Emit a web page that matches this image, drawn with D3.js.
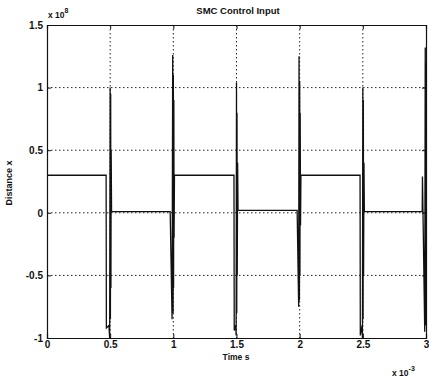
<!DOCTYPE html>
<html>
<head>
<meta charset="utf-8">
<script src="https://cdn.jsdelivr.net/npm/d3@7"></script>
<style>
  body { margin: 0; background: #fff; }
  text { font-family: Arial, "Liberation Sans", sans-serif; fill: #111; }
</style>
</head>
<body>
<figure id="chart" style="margin:0"></figure>
<script>
// time in units of 1e-3 s, control input in units of 1e8
const timeMs = [
  0, 0.468, 0.470, 0.490, 0.496, 0.500, 0.502, 0.504, 0.506, 0.508, 0.511,
  0.975, 0.990, 0.995, 0.998, 1.000, 1.002, 1.004, 1.006, 1.009,
  1.480, 1.482, 1.494, 1.497, 1.500, 1.502, 1.504, 1.506, 1.509, 1.512,
  1.980, 1.992, 1.995, 1.998, 2.000, 2.002, 2.004, 2.007, 2.010,
  2.478, 2.480, 2.494, 2.497, 2.500, 2.502, 2.504, 2.506, 2.509, 2.512,
  2.970, 2.972, 2.990, 2.994, 2.997, 3.000
];
const controlInput = [
  0.30, 0.30, -0.92, -0.90, -1.00, 1.00, -0.85, 0.95, -0.60, 0.50, 0.01,
  0.01, -0.85, 1.26, -0.80, 1.10, -0.60, 0.90, -0.20, 0.30,
  0.30, -0.94, -0.90, -0.98, 1.04, -0.80, 0.80, -0.50, 0.40, 0.02,
  0.02, -0.75, 1.25, -0.70, 1.05, -0.50, 0.80, -0.10, 0.30,
  0.30, -0.98, -0.90, -1.00, 1.00, -0.85, 0.90, -0.50, 0.40, 0.01,
  0.01, 0.29, -0.95, 1.32, -0.90, 1.20
];
const xTicks = [0, 0.5, 1, 1.5, 2, 2.5, 3];
const yTicks = [-1, -0.5, 0, 0.5, 1, 1.5];

const width = 429, height = 381;
const mLeft = 47, mRight = 426, mTop = 25, mBottom = 338;

const svg = d3.select('#chart').append('svg')
  .attr('width', width).attr('height', height);

const x = d3.scaleLinear().domain([0, 3]).range([mLeft, mRight]);
const y = d3.scaleLinear().domain([-1, 1.5]).range([mBottom, mTop]);

// dotted grid
svg.append('g').selectAll('line')
  .data(xTicks.slice(1, -1)).enter().append('line')
  .attr('x1', d => x(d)).attr('x2', d => x(d))
  .attr('y1', mTop).attr('y2', mBottom)
  .attr('stroke', '#222').attr('stroke-dasharray', '1.5,2.5');
svg.append('g').selectAll('line')
  .data(yTicks.slice(1, -1)).enter().append('line')
  .attr('y1', d => y(d)).attr('y2', d => y(d))
  .attr('x1', mLeft).attr('x2', mRight)
  .attr('stroke', '#222').attr('stroke-dasharray', '1.5,2.5');

// signal
const line = d3.line().x(d => x(d[0])).y(d => y(d[1]));
svg.append('path')
  .datum(timeMs.map((t, i) => [t, controlInput[i]]))
  .attr('d', line)
  .attr('fill', 'none').attr('stroke', '#111').attr('stroke-width', 1.3);

// axes (ticks inward, box)
const fmt = d => String(d);
svg.append('g').attr('transform', `translate(0,${mBottom})`)
  .call(d3.axisBottom(x).tickValues(xTicks).tickSize(-4).tickPadding(3).tickFormat(fmt));
svg.append('g').attr('transform', `translate(0,${mTop})`)
  .call(d3.axisTop(x).tickValues(xTicks).tickSize(-4).tickFormat(''));
svg.append('g').attr('transform', `translate(${mLeft},0)`)
  .call(d3.axisLeft(y).tickValues(yTicks).tickSize(-4).tickPadding(4).tickFormat(fmt));
svg.append('g').attr('transform', `translate(${mRight},0)`)
  .call(d3.axisRight(y).tickValues(yTicks).tickSize(-4).tickFormat(''));

svg.selectAll('.domain').attr('stroke', '#111').attr('stroke-width', 1.2);
svg.selectAll('.tick line').attr('stroke', '#111');
svg.selectAll('.tick text')
  .style('font-size', '10px').style('font-weight', 'bold').attr('fill', '#111');

// labels
svg.append('text').attr('x', 238).attr('y', 14)
  .attr('text-anchor', 'middle').style('font-size', '9.5px').style('font-weight', 'bold')
  .text('SMC Control Input');
svg.append('text').attr('x', 236).attr('y', 360)
  .attr('text-anchor', 'middle').style('font-size', '8.5px').style('font-weight', 'bold')
  .text('Time s');
svg.append('text')
  .attr('transform', 'translate(12,183) rotate(-90)')
  .attr('text-anchor', 'middle').style('font-size', '9px').style('font-weight', 'bold')
  .text('Distance x');

const ex1 = svg.append('text').attr('x', 48).attr('y', 18)
  .style('font-size', '8.5px').style('font-weight', 'bold');
ex1.append('tspan').text('x 10');
ex1.append('tspan').attr('dy', -5).style('font-size', '7px').text('8');

const ex2 = svg.append('text').attr('x', 392).attr('y', 376)
  .style('font-size', '8.5px').style('font-weight', 'bold');
ex2.append('tspan').text('x 10');
ex2.append('tspan').attr('dy', -5).style('font-size', '7px').text('-3');
</script>
</body>
</html>
